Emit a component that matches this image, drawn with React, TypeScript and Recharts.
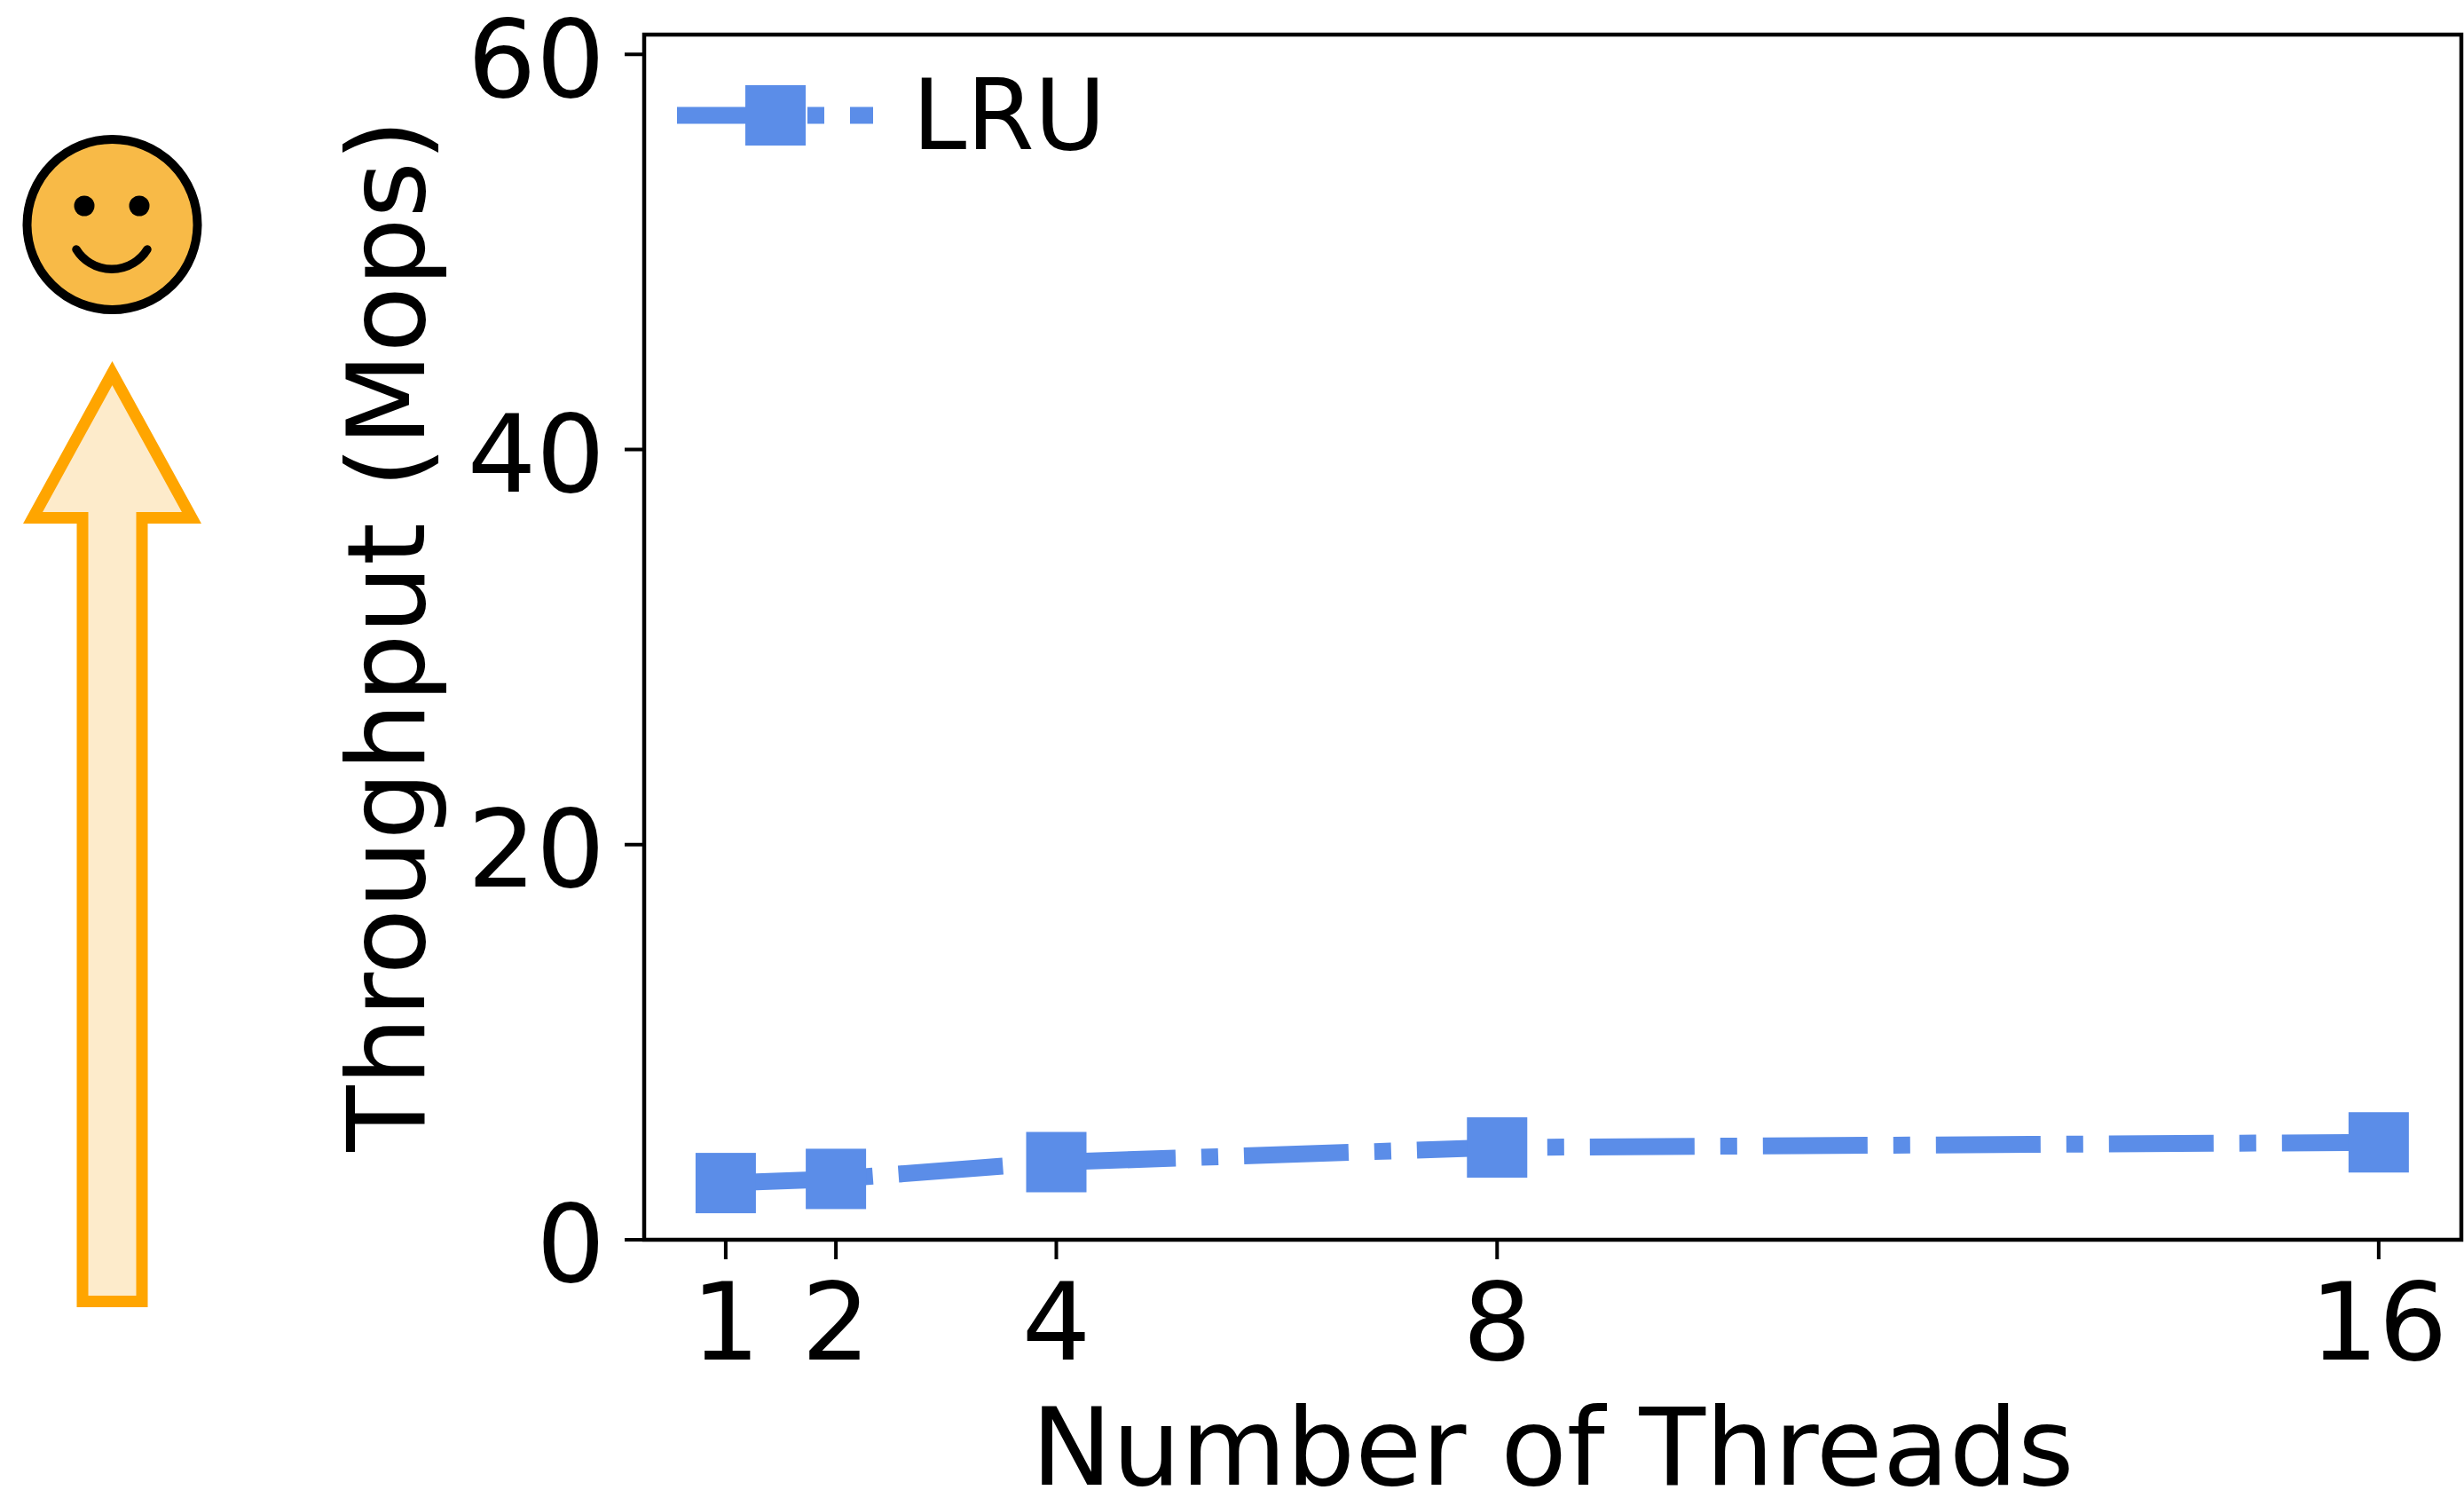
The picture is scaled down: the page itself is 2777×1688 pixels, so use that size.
import React from 'react';
import { LineChart, Line, XAxis, YAxis, Legend } from 'recharts';

const threads = [1, 2, 4, 8, 16];
const lruThroughput = [2.87, 3.08, 3.93, 4.67, 4.93];
const yTicks = [0, 20, 40, 60];
const seriesName = 'LRU';
const xTitle = 'Number of Threads';
const yTitle = 'Throughput (Mops)';

const BLUE = '#5B8DE8';
const FONT = '"DejaVu Sans", sans-serif';
const DASH = '118 29 19 29';

const data = threads.map((t, i) => ({ threads: t, lru: lruThroughput[i] }));

const SquareDot = (props: any) => {
  const { cx, cy } = props;
  return <rect x={cx - 34} y={cy - 34} width={68} height={68} fill={BLUE} />;
};

const LegendContent = () => (
  <div style={{ display: 'flex', alignItems: 'center', fontFamily: FONT, fontSize: 110, color: '#000', lineHeight: '110px' }}>
    <svg width={222} height={70} style={{ display: 'block' }}>
      <line x1={0} x2={221} y1={35} y2={35} stroke={BLUE} strokeWidth={19} strokeDasharray={DASH} />
      <rect x={77} y={1} width={68} height={68} fill={BLUE} />
    </svg>
    <span style={{ marginLeft: 43 }}>{seriesName}</span>
  </div>
);

// smiley and arrow sit to the left of the axes
const SideMarks = () => (
  <g>
    <circle cx={126.5} cy={253} r={96} fill="#F8BA47" stroke="#000" strokeWidth={10} />
    <circle cx={95} cy={232} r={11.5} fill="#000" />
    <circle cx={157} cy={232} r={11.5} fill="#000" />
    <path d="M86 281 A47 47 0 0 0 166 281" fill="none" stroke="#000" strokeWidth={9.5} strokeLinecap="round" />
    <path
      d="M126.5 420.5 L37 583.5 L93 583.5 L93 1466.5 L160 1466.5 L160 583.5 L216 583.5 Z"
      fill="#FDEBCB"
      stroke="#FFA500"
      strokeWidth={13}
    />
  </g>
);

export default function App() {
  return (
    <div style={{ position: 'absolute', left: 0, top: 0, width: 2777, height: 1688, background: '#fff' }}>
      <LineChart
        width={2777}
        height={1688}
        data={data}
        margin={{ top: 39, right: 3, bottom: 0, left: 0 }}
      >
        <XAxis
          dataKey="threads"
          type="number"
          domain={[0.26, 16.75]}
          ticks={threads}
          interval={0}
          allowDataOverflow
          tickLine={{ stroke: '#000', strokeWidth: 4 }}
          tickSize={22}
          tickMargin={26}
          axisLine={false}
          height={291}
          tick={{ fontFamily: FONT, fontSize: 122, fill: '#000' }}
          label={{ value: xTitle, position: 'insideBottom', offset: 15, fontFamily: FONT, fontSize: 122, fill: '#000' }}
        />
        <YAxis
          type="number"
          domain={[0, 61]}
          ticks={yTicks}
          interval={0}
          allowDataOverflow
          tickLine={{ stroke: '#000', strokeWidth: 4 }}
          tickSize={22}
          tickMargin={22}
          axisLine={false}
          width={726}
          tick={{ fontFamily: FONT, fontSize: 122, fill: '#000', dy: 4 }}
          label={{ value: yTitle, angle: -90, position: 'insideLeft', offset: 435, dy: -2, fontFamily: FONT, fontSize: 122, fill: '#000', style: { textAnchor: 'middle' } }}
        />
        <rect x={726} y={39} width={2048} height={1358} fill="none" stroke="#000" strokeWidth={4.5} />
        <Line
          dataKey="lru"
          name={seriesName}
          stroke={BLUE}
          strokeWidth={19}
          strokeDasharray={DASH}
          strokeLinejoin="miter"
          dot={<SquareDot />}
          activeDot={false}
          isAnimationActive={false}
        />
        <Legend
          layout="horizontal"
          verticalAlign="middle"
          align="center"
          content={<LegendContent />}
          wrapperStyle={{ position: 'absolute', left: 763, top: 75, width: 'auto', height: 'auto' }}
        />
        <SideMarks />
      </LineChart>
    </div>
  );
}
